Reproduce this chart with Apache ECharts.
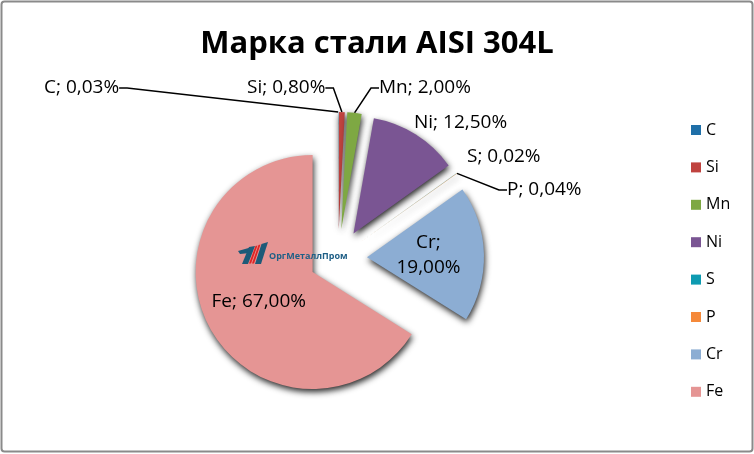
<!DOCTYPE html>
<html><head><meta charset="utf-8">
<script src="https://cdn.jsdelivr.net/npm/echarts@6/dist/echarts.min.js"></script>
<style>html,body{margin:0;padding:0;background:#fff}#c{width:754px;height:454px}</style>
</head><body><div id="c"></div>
<script>
const categories = ['C', 'Si', 'Mn', 'Ni', 'S', 'P', 'Cr', 'Fe'];
const values = [0.03, 0.80, 2.00, 12.50, 0.02, 0.04, 19.00, 67.00];
const colors = ['#1f6fa8', '#c0433f', '#7ea843', '#7a5593', '#0e9bb1', '#f5893a', '#8cadd3', '#e59594'];
const title = 'Марка стали AISI 304L';

const font = '"Open Sans", "Noto Sans", sans-serif';
const CX = 338, CY = 258, R = 117, OFF = 29;
// outside label placement (left edge x, middle y) — style only
const labelPos = {
  0: {x: 44, y: 88, line: true},
  1: {x: 247, y: 88, line: true},
  2: {x: 379, y: 88, line: true},
  3: {x: 414, y: 123, line: false},
  4: {x: 467, y: 157, line: false},
  5: {x: 507, y: 190, line: true}
};
const fmt = v => v.toFixed(2).replace('.', ',') + '%';

// visible, exploded slices
const sliceData = categories.map((c, i) => ({
  name: c, value: values[i], selected: true,
  itemStyle: {color: colors[i]},
  label: {show: i >= 6}
}));
// transparent twin carrying outside labels
const labelData = categories.map((c, i) => ({
  name: c, value: values[i],
  label: {show: i < 6},
  labelLine: {show: i < 6 && labelPos[i].line}
}));

const chart = echarts.init(document.getElementById('c'), null, {renderer: 'canvas'});
chart.setOption({
  animation: false,
  backgroundColor: '#fff',
  title: {text: title, left: 'center', top: 24,
    textStyle: {fontFamily: font, fontSize: 31, fontWeight: 'bold', color: '#000'}},
  legend: {
    orient: 'vertical', left: 686, top: 117, itemWidth: 10, itemHeight: 10, itemGap: 21.4,
    icon: 'rect', data: categories, selectedMode: false,
    textStyle: {fontFamily: font, fontSize: 16, lineHeight: 16, color: '#000'}
  },
  graphic: [
    {type: 'rect', shape: {x: 1.5, y: 1.5, width: 751, height: 450, r: 3},
     style: {fill: 'none', stroke: '#8a8a8a', lineWidth: 2}, z: 100},
    // watermark logo
    {type: 'polygon', z: 100, shape: {points: [[238,251],[252,247],[250,253],[240,254]]}, style: {fill: '#1d5a78'}},
    {type: 'polygon', z: 100, shape: {points: [[249,247],[255,246],[248,264],[242,264]]}, style: {fill: '#1d5a78'}},
    {type: 'polygon', z: 101, shape: {points: [[255.5,246],[257.5,245.5],[251,263.5],[249,263.5]]}, style: {fill: '#e02424'}},
    {type: 'polygon', z: 101, shape: {points: [[258.5,245],[260.5,244.5],[254,263.5],[252,263.5]]}, style: {fill: '#e02424'}},
    {type: 'polygon', z: 100, shape: {points: [[261.5,244],[268,242],[261,264],[255,264]]}, style: {fill: '#1d5a78'}},
    {type: 'text', x: 269, y: 252, z: 100, style: {text: 'ОргМеталлПром', fill: '#1f5f86', font: 'bold 9px ' + font}}
  ],
  series: [{
    type: 'pie',
    center: [CX, CY],
    radius: R,
    startAngle: 90,
    clockwise: true,
    selectedMode: 'multiple',
    selectedOffset: OFF,
    avoidLabelOverlap: false,
    data: sliceData,
    itemStyle: {shadowBlur: 6, shadowColor: 'rgba(0,0,0,0.85)', shadowOffsetX: 1, shadowOffsetY: 3},
    emphasis: {disabled: true},
    label: {
      position: 'inside', fontFamily: font, fontSize: 19, color: '#000', lineHeight: 25,
      formatter: p => p.dataIndex === 6 ? p.name + ';\n' + fmt(p.value) : p.name + '; ' + fmt(p.value)
    },
    labelLine: {show: false}
  }, {
    type: 'pie',
    center: [CX, CY],
    radius: R + OFF,
    startAngle: 90,
    clockwise: true,
    silent: true,
    selectedMode: false,
    avoidLabelOverlap: false,
    data: labelData,
    itemStyle: {color: 'rgba(0,0,0,0)', borderWidth: 0},
    emphasis: {disabled: true},
    label: {
      position: 'outside', fontFamily: font, fontSize: 19, color: '#000',
      formatter: p => p.name + '; ' + fmt(p.value)
    },
    labelLine: {lineStyle: {color: '#000', width: 1.5}, length: 8, length2: 8},
    labelLayout: function (p) {
      const lp = labelPos[p.dataIndex];
      if (!lp) return {};
      return {x: lp.x, y: lp.y, align: 'left', verticalAlign: 'middle'};
    }
  }]
});
</script></body></html>
